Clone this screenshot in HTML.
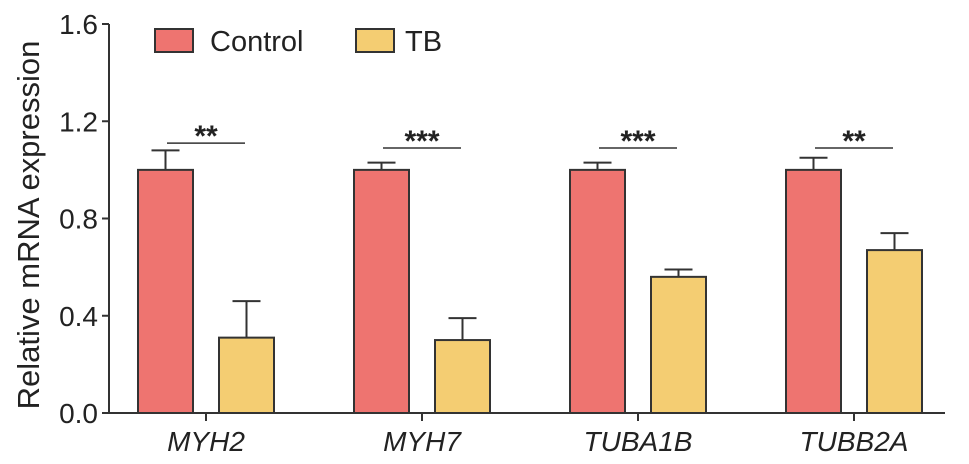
<!DOCTYPE html>
<html><head><meta charset="utf-8"><style>body{margin:0;background:#fff}svg{display:block;font-family:"Liberation Sans",Arial,sans-serif}</style></head>
<body>
<svg id="chart" width="969" height="464"></svg>
<script>
const categories=["MYH2","MYH7","TUBA1B","TUBB2A"];
const controlValues=[1.0,1.0,1.0,1.0];
const controlErrors=[0.08,0.03,0.03,0.05];
const tbValues=[0.31,0.30,0.56,0.67];
const tbErrors=[0.15,0.09,0.03,0.07];
const sigLabels=["**","***","***","**"];
const sigLevels=[1.11,1.09,1.09,1.09];
const yTicks=[0.0,0.4,0.8,1.2,1.6];
const tickLabels=["0.0","0.4","0.8","1.2","1.6"];

const NS="http://www.w3.org/2000/svg";
const svg=document.getElementById('chart');
const x0=109,y0=413,yTop=24,yMax=1.6;
const y=v=>y0-(v/yMax)*(y0-yTop);
const cx=i=>206+i*216;
function el(t,a,p){const e=document.createElementNS(NS,t);for(const k in a)e.setAttribute(k,a[k]);(p||svg).appendChild(e);return e;}
const stroke="#333";
const ya=el('line',{x1:x0,y1:yTop,x2:x0,y2:y0,stroke:stroke,'stroke-width':2});


yTicks.forEach((t,i)=>{
 const tk=el('line',{x1:x0-7,y1:y(t),x2:x0,y2:y(t),stroke:stroke,'stroke-width':2});
 
 
 const tx=el('text',{x:x0-11,y:y(t)+10,'text-anchor':'end','font-size':28,fill:'#222'});
 tx.textContent=tickLabels[i];
 
 
});
const yt=el('text',{x:0,y:0,'text-anchor':'middle','font-size':31,fill:'#222',transform:'translate(39,225) rotate(-90)'});
yt.textContent="Relative mRNA expression";


const bw=55;
function bar(xl,v,e,fill,name){
 const top=y(v+e),mid=xl+bw/2;
 const l=el('line',{x1:mid,y1:y(v),x2:mid,y2:top,stroke:stroke,'stroke-width':2});
 
 
 const c=el('line',{x1:mid-14,y1:top,x2:mid+14,y2:top,stroke:stroke,'stroke-width':2});
 
 
 const r=el('rect',{x:xl,y:y(v),width:bw,height:y0-y(v),fill:fill,stroke:stroke,'stroke-width':2});
 
 
}
categories.forEach((c,i)=>{
 const m=cx(i);
 bar(m-68,controlValues[i],controlErrors[i],'#ee7470','bar-control-'+c.toLowerCase());
 bar(m+13,tbValues[i],tbErrors[i],'#f4cd72','bar-tb-'+c.toLowerCase());
 const tk=el('line',{x1:m,y1:y0,x2:m,y2:y0+8,stroke:stroke,'stroke-width':2});
 
 
 const lb=el('text',{x:m,y:451,'text-anchor':'middle','font-size':28,'font-style':'italic',fill:'#222'});
 lb.textContent=c;
 
 
 const sy=y(sigLevels[i]);
 const sl=el('line',{x1:m-39,y1:sy,x2:m+39,y2:sy,stroke:stroke,'stroke-width':1.5});
 
 
 const st=el('text',{x:m,y:sy+3,'text-anchor':'middle','font-size':30,'font-weight':'bold',fill:'#222'});
 st.textContent=sigLabels[i];
 
 
});
const xa=el('line',{x1:x0-7,y1:y0,x2:945,y2:y0,stroke:stroke,'stroke-width':2});


const lg=el('g',{});


[['Control','#ee7470',155,210],['TB','#f4cd72',356,405]].forEach(([t,f,rx,tx])=>{
 const r=el('rect',{x:rx,y:29,width:38,height:23,fill:f,stroke:stroke,'stroke-width':2},lg);
 
 
 const tt=el('text',{x:tx,y:51,'font-size':29,fill:'#222'},lg);
 tt.textContent=t;
 
 
});
</script>
</body></html>
